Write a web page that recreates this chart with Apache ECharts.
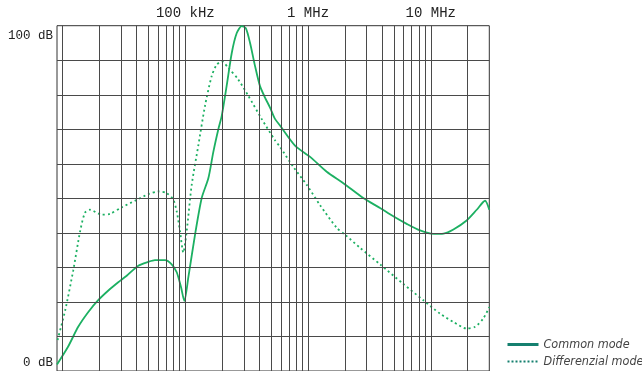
<!DOCTYPE html>
<html>
<head>
<meta charset="utf-8">
<script src="https://cdn.jsdelivr.net/npm/echarts@6/dist/echarts.min.js"></script>
<style>
  html, body { margin: 0; padding: 0; background: #fff; }
  #chart { width: 642px; height: 371px; }
</style>
</head>
<body>
<div id="chart"></div>
<script>
// Attenuation versus frequency, 9 kHz .. 30 MHz (log scale), 0 .. 100 dB
const seriesNames = ['Common mode', 'Differenzial mode'];

// Common mode: frequency (kHz) and attenuation (dB)
const commonFreqKHz = [9, 11.1, 13.4, 16.2, 19.5, 23.6, 28.4, 33.3, 41.4, 49.9, 56.6, 68.3, 77.4, 85.1, 92.2, 98.1,
  105.8, 120, 136, 154, 169, 186, 198, 217, 239, 262, 288, 311, 337, 370, 406, 446, 490, 538, 591, 783,
  1040, 1420, 1940, 2820, 3860, 4950, 6370, 8180, 10500, 12700, 15300, 19600, 23700, 27700, 30000];
const commonDb = [1.9, 7.1, 12.8, 17.1, 20.5, 23.3, 25.7, 27.6, 30.5, 31.6, 32.1, 32.1, 30.9, 28.6, 24.3, 20.3,
  27.1, 39.5, 50.1, 55.8, 63.4, 70.1, 73.9, 82.5, 92.1, 97.8, 99.9, 99.3, 95.0, 88.3, 82.5, 79.2, 76.3, 73.0, 71.1, 65.3,
  62.0, 57.7, 54.4, 50.1, 47.2, 44.8, 42.6, 40.7, 39.7, 39.8, 41.0, 43.6, 46.7, 49.3, 46.7];

// Differential mode: frequency (kHz) and attenuation (dB)
const diffFreqKHz = [9.1, 10.5, 12.2, 13.9, 15.2, 16.7, 20.8, 24.3, 30.3, 38.9, 49.9, 60.2, 70.5, 79.8, 85.1, 90.5,
  96.3, 102.6, 112.7, 127.6, 144.7, 164, 180, 198, 224, 270, 326, 419, 538, 591, 759, 976, 1250, 1710, 2000, 2650,
  3860, 5980, 8700, 11900, 15300, 19600, 23000, 26800, 30000];
const diffDb = [9.0, 17.6, 29.1, 40.5, 45.8, 46.7, 45.3, 45.5, 47.4, 49.3, 51.2, 52.0, 51.5, 49.6, 46.2, 40.5,
  34.3, 40.5, 53.9, 65.3, 76.8, 85.4, 88.7, 89.7, 87.8, 84.4, 79.7, 73.0, 66.8, 64.9, 59.1, 53.9, 48.1, 41.5, 39.5, 35.7,
  30.9, 25.2, 20.5, 16.6, 14.2, 12.3, 12.8, 15.2, 18.5];

// Axis ticks and labels
const freqMinHz = 9000;
const freqMaxHz = 30000000;
const freqTickHz = [1e5, 1e6, 1e7];
const freqTickLabels = ['100 kHz', '1 MHz', '10 MHz'];
const dbMin = 0, dbMax = 100, dbStep = 10;
const dbTickLabels = ['0 dB', '100 dB'];

// Grid lines: every 1..9 multiple inside each decade
const decadeStarts = [1e4, 1e5, 1e6, 1e7];
const gridFreqs = [];
decadeStarts.forEach(d => {
  for (let m = 1; m <= 9; m++) {
    const f = d * m;
    if (f > freqMinHz && f < freqMaxHz) gridFreqs.push(f);
  }
});
const gridDbs = [];
for (let v = dbMin + dbStep; v < dbMax; v += dbStep) gridDbs.push(v);

const toPairs = (fk, db) => fk.map((f, i) => [f * 1000, db[i]]);

const curveColor = '#1cb062';
const legendColor = '#15806f';
const gridColor = '#4a4a4a';
const monoFont = '"Liberation Mono", "DejaVu Sans Mono", monospace';
const hiddenMarker = { color: 'rgba(0,0,0,0)', borderWidth: 0, opacity: 0 };

const chart = echarts.init(document.getElementById('chart'), null, { renderer: 'canvas' });

const option = {
  animation: false,
  backgroundColor: '#fff',
  grid: {
    left: 57, right: 152.7, top: 25.7, bottom: -3.7,
    show: true, borderColor: '#333', borderWidth: 1
  },
  xAxis: {
    type: 'log', logBase: 10, position: 'top',
    min: freqMinHz, max: freqMaxHz,
    axisLine: { show: false },
    axisTick: { show: false },
    splitLine: { show: false },
    axisLabel: {
      margin: 5,
      color: '#222',
      fontFamily: monoFont,
      fontSize: 14,
      showMinLabel: false, showMaxLabel: false,
      formatter: v => {
        const i = freqTickHz.findIndex(t => Math.abs(Math.log10(v) - Math.log10(t)) < 1e-6);
        return i >= 0 ? freqTickLabels[i] : '';
      }
    }
  },
  yAxis: {
    type: 'value', min: dbMin, max: dbMax, interval: dbStep,
    axisLine: { show: false },
    axisTick: { show: false },
    splitLine: { show: false },
    axisLabel: { show: false }
  },
  legend: {
    orient: 'vertical',
    left: 506, top: 338,
    padding: 0,
    itemWidth: 31, itemHeight: 14, itemGap: 4,
    textStyle: {
      fontFamily: '"Liberation Sans Narrow", "DejaVu Sans Condensed", Roboto, sans-serif',
      fontStyle: 'italic', fontSize: 12.5, color: '#444'
    },
    data: [
      { name: seriesNames[0], itemStyle: hiddenMarker, lineStyle: { color: legendColor, width: 3, type: 'solid' } },
      { name: seriesNames[1], itemStyle: hiddenMarker, lineStyle: { color: legendColor, width: 2, type: [2, 2] } }
    ]
  },
  series: [
    {
      // grid lines drawn through the axes' own scales
      name: 'grid',
      type: 'line',
      data: [],
      z: 1,
      silent: true,
      markLine: {
        silent: true,
        symbol: 'none',
        animation: false,
        label: { show: false },
        lineStyle: { color: gridColor, width: 1, type: 'solid' },
        data: gridFreqs.map(f => ({ xAxis: f })).concat(gridDbs.map(v => ({ yAxis: v })))
      }
    },
    {
      name: seriesNames[0],
      type: 'line',
      data: toPairs(commonFreqKHz, commonDb),
      smooth: 0.25,
      symbol: 'none',
      z: 3,
      lineStyle: { color: curveColor, width: 1.8 },
      itemStyle: { color: curveColor }
    },
    {
      name: seriesNames[1],
      type: 'line',
      data: toPairs(diffFreqKHz, diffDb),
      smooth: 0.25,
      symbol: 'none',
      z: 3,
      lineStyle: { color: curveColor, width: 1.8, type: [2, 3] },
      itemStyle: { color: curveColor }
    }
  ]
};
chart.setOption(option);

// dB labels beside the left border, at the bottom and top of the scale
const leftX = chart.convertToPixel({ xAxisIndex: 0 }, freqMinHz);
const yBottom = chart.convertToPixel({ yAxisIndex: 0 }, dbMin);
const yTop = chart.convertToPixel({ yAxisIndex: 0 }, dbMax);
chart.setOption({
  graphic: [
    { type: 'text', x: leftX - 4, y: yTop + 9.5,
      style: { text: dbTickLabels[1], font: '12.5px ' + monoFont, fill: '#222', align: 'right', verticalAlign: 'middle' } },
    { type: 'text', x: leftX - 4, y: yBottom - 8.2,
      style: { text: dbTickLabels[0], font: '12.5px ' + monoFont, fill: '#222', align: 'right', verticalAlign: 'middle' } }
  ]
});
</script>
</body>
</html>
